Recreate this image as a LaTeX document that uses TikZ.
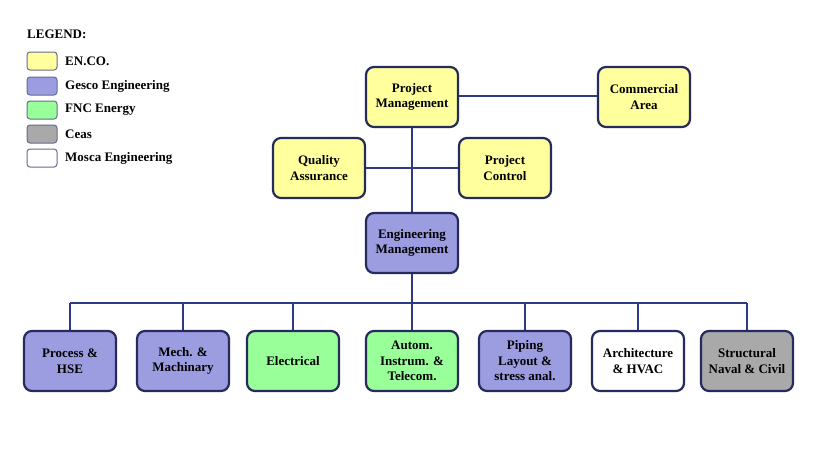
\documentclass[tikz,border=0pt]{standalone}
\usepackage{fontspec}
\setmainfont{Liberation Serif}
\definecolor{enco}{HTML}{FFFF9E}
\definecolor{gesco}{HTML}{9C9CE0}
\definecolor{fnc}{HTML}{99FF99}
\definecolor{ceas}{HTML}{A9A9A9}
\definecolor{mosca}{HTML}{FFFFFF}
\definecolor{edge}{HTML}{262B5E}
\definecolor{wire}{HTML}{2E3A80}
\tikzset{
  box/.style={draw=edge, line width=2.2pt, rounded corners=8pt, minimum width=92pt, minimum height=60pt, align=center, inner sep=2pt, font=\fontsize{13}{15.5}\selectfont\bfseries},
  swatch/.style={draw=edge!70, line width=1pt, rounded corners=3pt, minimum width=30pt, minimum height=18pt, inner sep=0pt},
  legtext/.style={anchor=west, font=\fontsize{13}{15}\selectfont\bfseries, inner sep=0pt},
  wire/.style={draw=wire, line width=2.6pt}
}
\begin{document}
\begin{tikzpicture}[x=1pt,y=-1pt]
\useasboundingbox (0,0) rectangle (820,463);
\fill[white] (0,0) rectangle (820,463);
% legend
\node[legtext] (leg) at (27,34) {LEGEND:};
\node[swatch, fill=enco] (s1) at (42,61) {};
\node[swatch, fill=gesco] (s2) at (42,86) {};
\node[swatch, fill=fnc] (s3) at (42,110) {};
\node[swatch, fill=ceas] (s4) at (42,134) {};
\node[swatch, fill=mosca] (s5) at (42,158) {};
\node[legtext] (l1) at (65,61) {EN.CO.};
\node[legtext] (l2) at (65,86) {Gesco Engineering};
\node[legtext] (l3) at (65,110) {FNC Energy};
\node[legtext] (l4) at (65,134) {Ceas};
\node[legtext] (l5) at (65,158) {Mosca Engineering};
% top boxes
\node[box, fill=enco] (pm) at (412,97) {Project\\Management};
\node[box, fill=enco] (ca) at (644,97) {Commercial\\Area};
\node[box, fill=enco] (qa) at (319,168) {Quality\\Assurance};
\node[box, fill=enco] (pc) at (505,168) {Project\\Control};
\node[box, fill=gesco] (em) at (412,243) {Engineering\\Management};
% bottom boxes
\node[box, fill=gesco] (b1) at (70,361) {Process \&\\HSE};
\node[box, fill=gesco] (b2) at (183,361) {Mech. \&\\Machinary};
\node[box, fill=fnc] (b3) at (293,361) {Electrical};
\node[box, fill=fnc] (b4) at (412,361) {Autom.\\Instrum. \&\\Telecom.};
\node[box, fill=gesco] (b5) at (525,361) {Piping\\Layout \&\\stress anal.};
\node[box, fill=mosca] (b6) at (638,361) {Architecture\\\& HVAC};
\node[box, fill=ceas] (b7) at (747,361) {Structural\\Naval \& Civil};
% connectors
\coordinate (bus) at (412,303);
\draw[wire] (pm.east |- 0,96) -- (ca.west |- 0,96);
\draw[wire] (qa.east) -- (pc.west);
\draw[wire] (pm.south) -- (em.north);
\draw[wire] (em.south) -- (bus);
\draw[wire] (b1.north |- bus) -- (b7.north |- bus);
\foreach \b in {b1,b2,b3,b4,b5,b6,b7}{
  \draw[wire] (\b.north |- bus) -- (\b.north);
}
\end{tikzpicture}
\end{document}
